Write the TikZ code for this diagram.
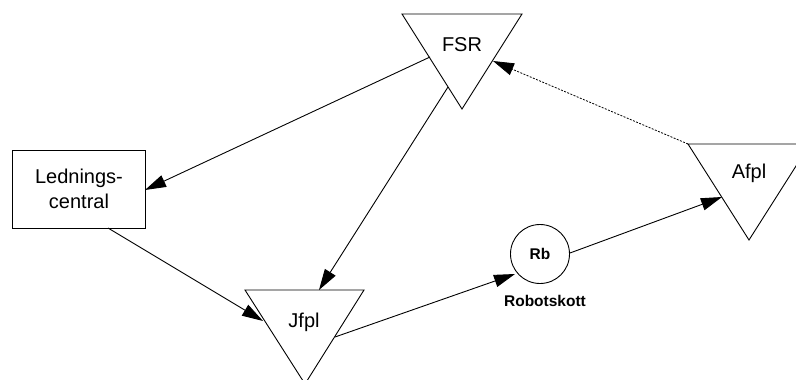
\documentclass[tikz,border=0pt]{standalone}
\usepackage{fontspec}
\setmainfont{Liberation Sans}
\usetikzlibrary{arrows.meta}
\begin{document}
\begin{tikzpicture}[x=1pt,y=-1pt,
  outline/.style={draw=black,line width=0.9pt,line join=miter},
  flow/.style={draw=black,line width=0.9pt,-{Triangle[length=21pt,width=12.5pt]}},
  weak/.style={flow,dash pattern=on 2pt off 1.4pt,line width=0.8pt},
  lbl/.style={font=\fontsize{20}{23}\selectfont,inner sep=0pt,align=center},
  small/.style={font=\fontsize{15.5}{18}\selectfont\bfseries,inner sep=0pt}]
\useasboundingbox (0,0) rectangle (796,380);
\fill[white] (0,0) rectangle (796,380);

% FSR
\draw[outline] (402,14) -- (522,14) -- (462,109) -- cycle;
\node[lbl] (fsr) at (462,45) {FSR};
% Ledningscentral
\draw[outline] (12,150) rectangle (145,228);
\node[lbl] (led) at (79,189) {Lednings-\\[2pt]central};
% Jfpl
\draw[outline] (245,290) -- (364,290) -- (305,384) -- cycle;
\node[lbl] (jfpl) at (304,322) {Jfpl};
% Afpl (runs off the right edge)
\draw[outline] (688,144) -- (810,144) -- (749,240) -- cycle;
\node[lbl] (afpl) at (749,173) {Afpl};
% Robotskott
\draw[outline] (540,254) circle (29.5);
\node[small] (rb) at (540,254) {Rb};
\node[small] (rbname) at (545,301) {Robotskott};

% connector end points on the shape outlines
\coordinate (fsrA) at (430,57);
\coordinate (fsrB) at (448,87);
\coordinate (fsrC) at (493,61);
\coordinate (ledR) at (145,190);
\coordinate (ledB) at (108,228);
\coordinate (jfplT) at (319,290);
\coordinate (jfplL) at (263,321);
\coordinate (jfplR) at (335,337);
\coordinate (rbL) at (515,274);
\coordinate (rbR) at (570,253);
\coordinate (afplL) at (722,197);
\coordinate (afplC) at (688,144);

\draw[flow] (fsrA) -- (ledR);
\draw[flow] (fsrB) -- (jfplT);
\draw[flow] (ledB) -- (jfplL);
\draw[flow] (jfplR) -- (rbL);
\draw[flow] (rbR) -- (afplL);
\draw[weak] (afplC) -- (fsrC);
\end{tikzpicture}
\end{document}
